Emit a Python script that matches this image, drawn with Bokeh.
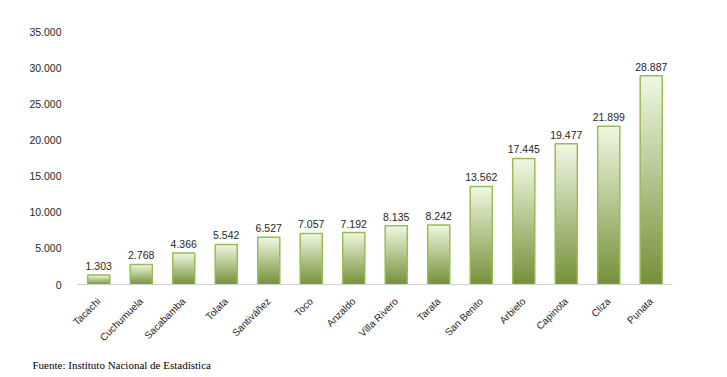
import math
from bokeh.plotting import figure
from bokeh.models import FixedTicker, CustomJSTickFormatter, Range1d, Title, ColumnDataSource
from bokeh.core.properties import value
from bokeh.embed import file_html
from bokeh.resources import INLINE

municipios = ["Tacachi", "Cuchumuela", "Sacabamba", "Tolata", "Santiváñez", "Toco", "Anzaldo",
              "Villa Rivero", "Tarata", "San Benito", "Arbieto", "Capinota", "Cliza", "Punata"]
poblacion = [1303, 2768, 4366, 5542, 6527, 7057, 7192, 8135, 8242, 13562, 17445, 19477, 21899, 28887]
y_ticks = [0, 5000, 10000, 15000, 20000, 25000, 30000, 35000]
fuente = "Fuente: Instituto Nacional de Estadística"

def fmt(v):
    return f"{v:,}".replace(",", ".")

p = figure(x_range=municipios, width=727, height=377, output_backend="svg", toolbar_location=None,
           min_border_left=77, min_border_right=55, min_border_top=31, min_border_bottom=92)
p.y_range = Range1d(0, 35000)
p.outline_line_color = None
p.xgrid.grid_line_color = None
p.ygrid.grid_line_color = None
p.background_fill_color = "white"
p.border_fill_color = "white"

# gradient bars: overlapping layers, each from its slice start to the bar top
n = 40
top_c = (240, 248, 226)
bot_c = (116, 144, 56)
for i in range(n):
    t = (i + 0.5) / n
    c = tuple(int(round(bot_c[k] + (top_c[k] - bot_c[k]) * t)) for k in range(3))
    color = "#%02x%02x%02x" % c
    src = ColumnDataSource(dict(x=municipios,
                                b=[v * i / n for v in poblacion],
                                t=poblacion))
    p.vbar(x="x", bottom="b", top="t", width=0.52, source=src, fill_color=color, line_color=None)

p.vbar(x=municipios, top=poblacion, width=0.52, fill_color=None, line_color="#9bbb59", line_width=1.5)

lab = ColumnDataSource(dict(x=municipios, y=poblacion, t=[fmt(v) for v in poblacion]))
p.text(x="x", y="y", text="t", source=lab, text_align="center", text_baseline="bottom",
       y_offset=-5, text_font=value("Liberation Sans"), text_font_size="10.5px", text_color="#262626")

p.yaxis.ticker = FixedTicker(ticks=y_ticks)
p.yaxis.formatter = CustomJSTickFormatter(code="return tick.toFixed(0).replace(/\\B(?=(\\d{3})+(?!\\d))/g, '.');")
p.yaxis.axis_line_color = None
p.yaxis.major_tick_line_color = None
p.yaxis.minor_tick_line_color = None
p.yaxis.major_label_standoff = 10
p.yaxis.major_label_text_font = "Liberation Sans"
p.yaxis.major_label_text_font_size = "10.5px"
p.yaxis.major_label_text_color = "#262626"

p.xaxis.axis_line_color = "#d0d0d0"
p.xaxis.major_tick_line_color = None
p.xaxis.minor_tick_line_color = None
p.xaxis.major_label_orientation = math.pi / 4
p.xaxis.major_label_standoff = 9
p.xaxis.major_label_text_font = "Liberation Sans"
p.xaxis.major_label_text_font_size = "10px"
p.xaxis.major_label_text_color = "#262626"

p.add_layout(Title(text=fuente, align="left", offset=-45, standoff=14, text_font="Liberation Serif",
                   text_font_size="11px", text_font_style="normal", text_color="#000000"), "below")

open("out.html", "w").write(file_html(p, INLINE))
